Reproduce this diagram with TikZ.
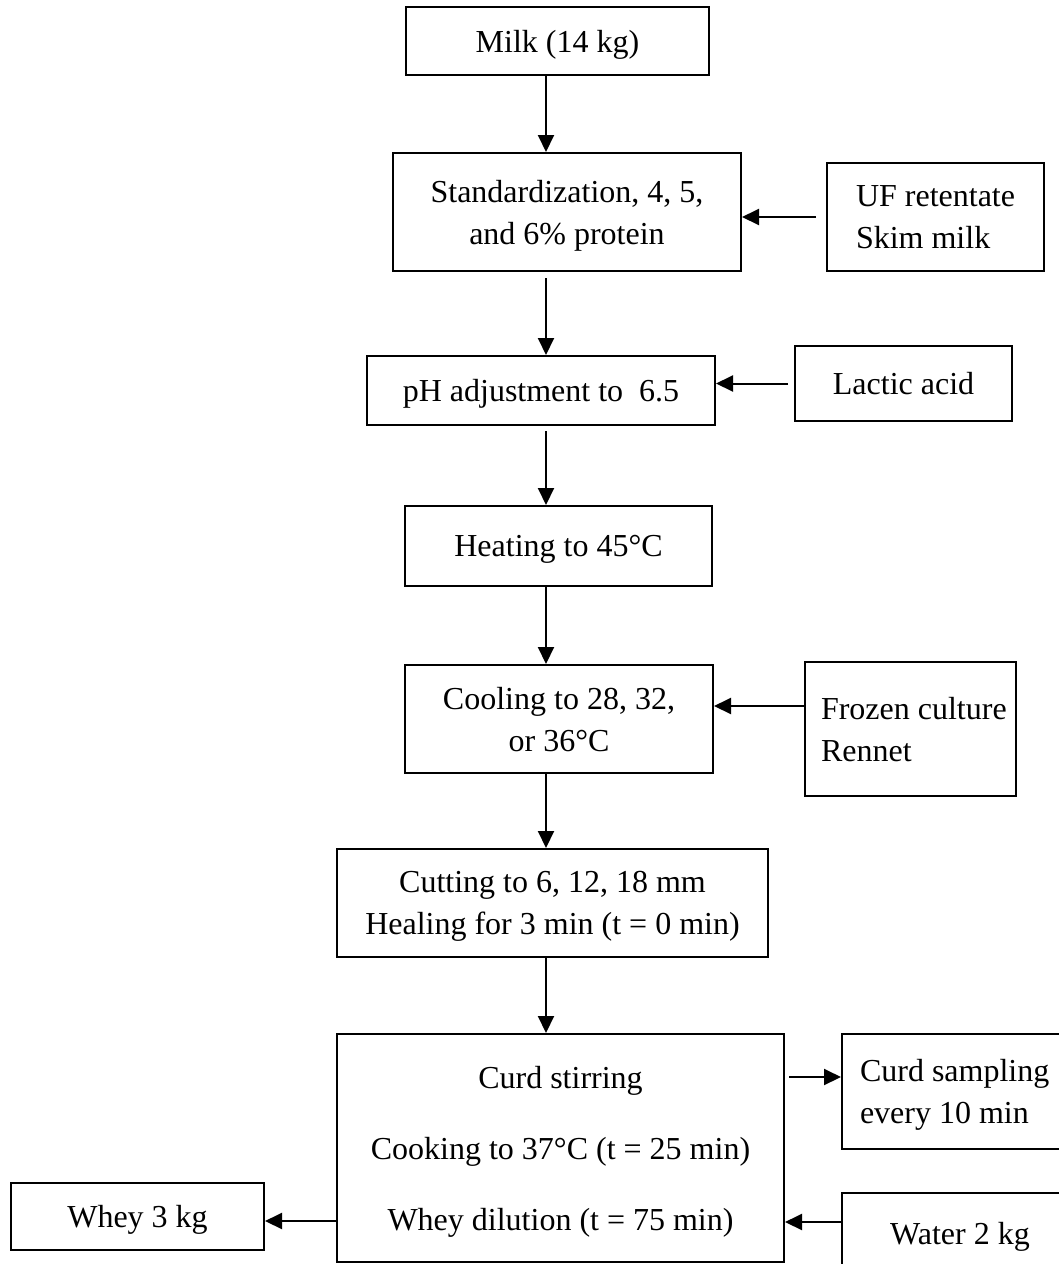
\documentclass[tikz,border=0pt]{standalone}
\usepackage{fontspec}
\setmainfont{Liberation Serif}
\usetikzlibrary{arrows.meta}
\tikzset{
  box/.style={draw, line width=2pt, inner sep=0pt, font=\fontsize{32}{42}\selectfont},
  cbox/.style={box, align=center, text depth=0pt},
  lbox/.style={box, align=flush left, text depth=42pt},
  arr/.style={line width=2pt, -{Triangle[length=17pt,width=16pt]}},
}

\begin{document}
\begin{tikzpicture}[x=1pt,y=-1pt]
  \useasboundingbox (0,0) rectangle (1058,1264);
  % main line
  \node[cbox,minimum width=303pt,minimum height=68pt]  (milk) at (557.5,41)   {Milk (14 kg)};
  \node[cbox,minimum width=348pt,minimum height=118pt] (std)  at (567,212)    {Standardization, 4, 5,\\and 6\% protein};
  \node[cbox,minimum width=348pt,minimum height=69pt]  (ph)   at (541,390.5)  {pH adjustment to\ \ 6.5};
  \node[cbox,minimum width=307pt,minimum height=80pt]  (heat) at (558.5,546)  {Heating to 45°C};
  \node[cbox,minimum width=308pt,minimum height=108pt] (cool) at (559,719)    {Cooling to 28, 32,\\or 36°C};
  \node[cbox,minimum width=431pt,minimum height=108pt] (cut)  at (552.5,903)  {Cutting to 6, 12, 18 mm\\Healing for 3 min (t = 0 min)};
  \node[cbox,minimum width=447pt,minimum height=228pt] (stir) at (560.5,1148) {Curd stirring\\[29pt]Cooking to 37°C (t = 25 min)\\[29pt]Whey dilution (t = 75 min)};
  % side inputs and outputs
  \node[lbox,inner xsep=29pt,text width=159pt,minimum height=108pt] (uf)     at (935.5,217)  {\mbox{UF retentate}\\Skim milk};
  \node[cbox,minimum width=217pt,minimum height=75pt]               (lactic) at (903.5,383.5) {Lactic acid};
  \node[lbox,inner xsep=16pt,text width=179pt,minimum height=134pt] (frozen) at (910.5,729)  {\mbox{Frozen culture}\\Rennet};
  \node[lbox,inner xsep=18pt,text width=200pt,minimum height=115pt] (samp)   at (960,1091.5) {Curd sampling\\every 10 min};
  \node[cbox,minimum width=236pt,minimum height=80pt]               (water)  at (960,1233)   {Water 2 kg};
  \node[cbox,minimum width=253pt,minimum height=67pt]               (whey)   at (137.5,1216.5) {Whey 3 kg};

  \coordinate (ax) at (546,0);
  \draw[arr] (milk.south -| ax) -- (std.north -| ax);
  \draw[arr,shorten <=6pt] (std.south -| ax) -- (ph.north -| ax);
  \draw[arr,shorten <=5pt] (ph.south -| ax) -- (heat.north -| ax);
  \draw[arr] (heat.south -| ax) -- (cool.north -| ax);
  \draw[arr] (cool.south -| ax) -- (cut.north -| ax);
  \draw[arr] (cut.south -| ax) -- (stir.north -| ax);

  \draw[arr,shorten <=10pt] (uf.west) -- (uf.west -| std.east);
  \draw[arr,shorten <=6pt] (lactic.west) -- (lactic.west -| ph.east);
  \draw[arr] ([yshift=23pt]frozen.west) -- ([yshift=23pt]frozen.west -| cool.east);
  \draw[arr,shorten <=4pt] ([yshift=14.5pt]samp.west -| stir.east) -- ([yshift=14.5pt]samp.west);
  \draw[arr] ([yshift=11pt]water.west) -- ([yshift=11pt]water.west -| stir.east);
  \draw[arr] ([yshift=-4.5pt]whey.east -| stir.west) -- ([yshift=-4.5pt]whey.east);
\end{tikzpicture}
\end{document}
